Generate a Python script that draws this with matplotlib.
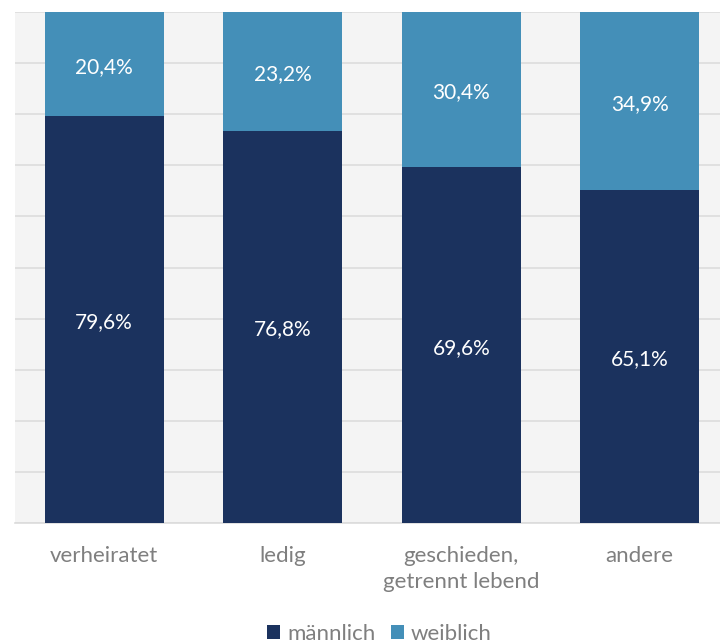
import matplotlib.pyplot as plt
import numpy as np

categories = ['verheiratet', 'ledig', 'geschieden,\ngetrennt lebend', 'andere']
maennlich = [79.6, 76.8, 69.6, 65.1]
weiblich = [20.4, 23.2, 30.4, 34.9]
labels_m = ['79,6%', '76,8%', '69,6%', '65,1%']
labels_w = ['20,4%', '23,2%', '30,4%', '34,9%']

dark = '#1b325e'
light = '#448fb8'

plt.rcParams['font.family'] = ['Lato', 'DejaVu Sans']

fig = plt.figure(figsize=(7.2, 6.43), dpi=100)
ax = fig.add_axes([15 / 720, 1 - 523 / 643, 714 / 720, 511 / 643])
ax.set_facecolor('#f4f4f4')

x = np.arange(len(categories))
b1 = ax.bar(x, maennlich, width=0.667, color=dark, label='männlich', zorder=3)
b2 = ax.bar(x, weiblich, width=0.667, bottom=maennlich, color=light, label='weiblich', zorder=3)

for i in range(len(categories)):
    ax.text(x[i], maennlich[i] / 2 - 0.5, labels_m[i], ha='center', va='center',
            color='white', fontsize=15, zorder=4)
    ax.text(x[i], maennlich[i] + weiblich[i] / 2 - 0.5, labels_w[i], ha='center', va='center',
            color='white', fontsize=15, zorder=4)

ax.set_xlim(-0.5, 3.5)
ax.set_ylim(0, 100)
ax.set_yticks(np.arange(0, 101, 10))
ax.yaxis.grid(True, color='#dcdcdc', linewidth=1.2, zorder=0)
ax.tick_params(left=False, labelleft=False, bottom=False)
ax.set_xticks(x)
ax.set_xticklabels(categories, color='#7f7f7f', fontsize=16, linespacing=1.35)
ax.tick_params(axis='x', pad=13)
for s in ['top', 'right', 'left']:
    ax.spines[s].set_visible(False)
ax.spines['bottom'].set_color('#dcdcdc')
ax.spines['bottom'].set_linewidth(1.2)

fig.legend(handles=[b1, b2], loc='center', bbox_to_anchor=(0.527, 1 - 634 / 643), ncol=2,
           frameon=False, fontsize=16, labelcolor='#7f7f7f', handlelength=0.6,
           handleheight=0.6, handletextpad=0.3, columnspacing=0.7)

fig.savefig('out.png', dpi=100)
